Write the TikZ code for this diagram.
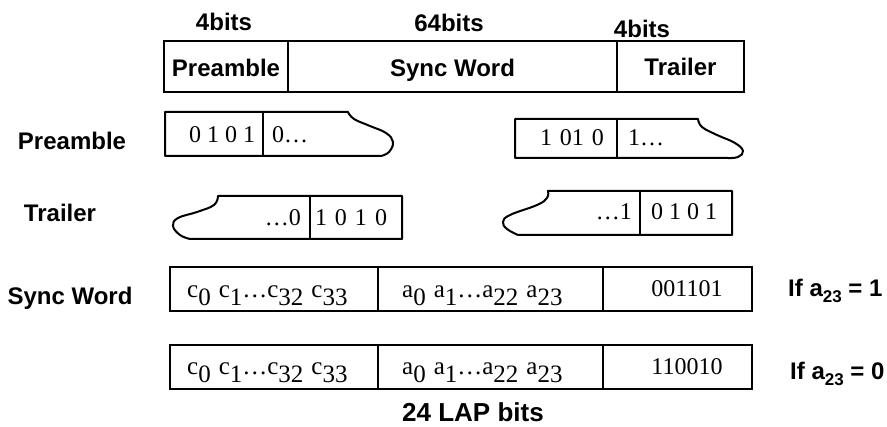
\documentclass[tikz,border=0pt]{standalone}
\usepackage{fontspec}
\setmainfont{Liberation Serif}
\setsansfont{Liberation Sans}
\usetikzlibrary{positioning}
\tikzstyle{field}=[draw, line width=1.3pt, inner sep=0, outer sep=0, minimum height=51pt, text height=20pt, text depth=0pt, font=\sffamily\bfseries\fontsize{24}{28}\selectfont]
\tikzstyle{cell}=[draw, line width=1.3pt, inner sep=0, outer sep=0, minimum height=44pt]
\tikzstyle{lbl}=[inner sep=0, font=\sffamily\bfseries\fontsize{24}{28}\selectfont]
\tikzstyle{bits}=[inner sep=0, font=\rmfamily\fontsize{24}{28}\selectfont]
\tikzstyle{lapbits}=[inner sep=0, font=\rmfamily\fontsize{25}{29}\selectfont]
\tikzstyle{torn}=[line width=2pt, line join=round]
\tikzstyle{sep}=[line width=1.3pt]
\newcommand{\lowsub}[2][-8pt]{\raisebox{#1}{#2}}
\newcommand{\gap}{\hspace{8pt}}

\begin{document}
\begin{tikzpicture}[x=1pt,y=-1pt]
        \useasboundingbox (0,0) rectangle (887,427);
        % packet frame
        \node [field, minimum width=124pt] (pre) at (226,66.5) {Preamble};
        \node [field, minimum width=329pt] (sw) [right=0pt of pre] {Sync Word};
        \node [field, minimum width=127pt, text height=18pt] (tr) [right=0pt of sw] {Trailer};
        \node [lbl, anchor=base] (prebits) at (224,31) {4bits};
        \node [lbl, anchor=base] (swbits) at (449,32) {64bits};
        \node [lbl, anchor=base] (trbits) at (642,38) {4bits};
        % row labels
        \node [lbl] (lpre) at (72,141) {Preamble};
        \node [lbl] (ltr) at (60,213) {Trailer};
        \node [lbl] (lsw) at (70,298) {Sync Word};
        % preamble
        \draw[torn] (381,156) -- (165,156) -- (165,112) -- (348,112)
            -- plot[smooth, tension=0.7] coordinates {(348,112) (354,119) (370,126) (386,133) (393,142) (389,152) (381,156)};
        \draw[sep] (263,112) -- (263,156);
        \node [bits] (pa) at (222,135) {0 1 0 1};
        \node [bits, anchor=west] (pb) at (272,135) {0…};
        \draw[torn] (728,158) -- (515,158) -- (515,119) -- (698,119)
            -- plot[smooth, tension=0.7] coordinates {(698,119) (702,127) (717,135) (735,143) (743,151) (738,157) (728,158)};
        \draw[sep] (617,119) -- (617,158);
        \node [bits] (pc) at (572,138) {1\gap 01\gap 0};
        \node [bits, anchor=west] (pd) at (628,138) {1…};
        % trailer
        \draw[torn] (190,239) -- (402,239) -- (402,196) -- (218,196)
            -- plot[smooth, tension=0.7] coordinates {(218,196) (214,205) (197,212) (178,218) (173,226) (180,235) (190,239)};
        \draw[sep] (310,196) -- (310,239);
        \node [bits, anchor=east] (ta) at (301,218) {…0};
        \node [bits] (tb) at (351,218) {1\gap 0\gap 1\gap 0};
        \draw[torn] (518,235) -- (732,235) -- (732,191) -- (548,191)
            -- plot[smooth, tension=0.7] coordinates {(548,191) (547,198) (537,205) (510,215) (503,222) (507,229) (518,235)};
        \draw[sep] (640,191) -- (640,235);
        \node [bits, anchor=east] (tc) at (632,212) {…1};
        \node [bits] (td) at (684,212) {0 1 0 1};
        % sync word, a23 = 1 and a23 = 0
        \node [cell, minimum width=208pt, anchor=north west] (lap1) at (170,267) {};
        \node [cell, minimum width=225pt] (sub1) [right=0pt of lap1] {};
        \node [cell, minimum width=149pt] (bar1) [right=0pt of sub1] {};
        \node [cell, minimum width=208pt, anchor=north west] (lap2) at (170,345) {};
        \node [cell, minimum width=225pt] (sub2) [right=0pt of lap2] {};
        \node [cell, minimum width=149pt] (bar2) [right=0pt of sub2] {};
        \node [lapbits, anchor=base west] (ct1) at (187,298) {c\lowsub{0}\gap c\lowsub{1}…c\lowsub{32}\gap c\lowsub{33}};
        \node [lapbits, anchor=base west] (at1) at (402,298) {a\lowsub{0}\gap a\lowsub{1}…a\lowsub{22}\gap a\lowsub{23}};
        \node [bits, anchor=base] (bt1) at (687,297) {001101};
        \node [lapbits, anchor=base west] (ct2) at (187,375) {c\lowsub{0}\gap c\lowsub{1}…c\lowsub{32}\gap c\lowsub{33}};
        \node [lapbits, anchor=base west] (at2) at (402,375) {a\lowsub{0}\gap a\lowsub{1}…a\lowsub{22}\gap a\lowsub{23}};
        \node [bits, anchor=base] (bt2) at (687,375) {110010};
        \node [lbl, anchor=base west] (if1) at (788,297) {If a\lowsub[-6pt]{\fontsize{17}{17}\selectfont 23} = 1};
        \node [lbl, anchor=base west] (if0) at (790,380) {If a\lowsub[-6pt]{\fontsize{17}{17}\selectfont 23} = 0};
        \node [lbl, font=\sffamily\bfseries\fontsize{26}{30}\selectfont] (lap) at (473,412) {24 LAP bits};
\end{tikzpicture}
\end{document}
